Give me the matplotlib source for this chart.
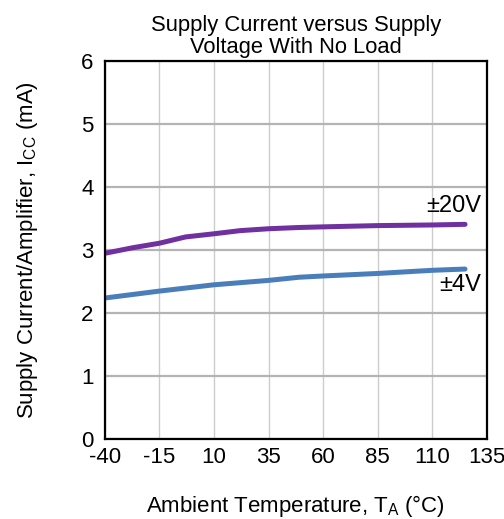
import matplotlib
matplotlib.use('Agg')
import matplotlib.pyplot as plt

plt.rcParams['font.family'] = ['Liberation Sans', 'DejaVu Sans']
plt.rcParams['mathtext.default'] = 'regular'
plt.rcParams['axes.unicode_minus'] = False

# values
temp_20v = [-40, -27, -15, -3, 10, 22, 35, 49, 60, 85, 110, 125]
icc_20v = [2.95, 3.04, 3.11, 3.21, 3.26, 3.31, 3.34, 3.36, 3.37, 3.39, 3.40, 3.41]
temp_4v = [-40, -15, 10, 35, 49, 60, 85, 110, 125]
icc_4v = [2.24, 2.35, 2.45, 2.52, 2.57, 2.59, 2.63, 2.68, 2.70]
x_ticks = [-40, -15, 10, 35, 60, 85, 110, 135]
y_ticks = [0, 1, 2, 3, 4, 5, 6]

fig = plt.figure(figsize=(5.04, 5.19), dpi=100)
ax = fig.add_axes([0.208, 0.154, 0.758, 0.728])

ax.plot(temp_20v, icc_20v, color='#7030a0', lw=3.6, solid_capstyle='round')
ax.plot(temp_4v, icc_4v, color='#4a7ebb', lw=3.6, solid_capstyle='round')

ax.text(132.5, 3.70, '±20V', ha='right', va='center', fontsize=17)
ax.text(132.5, 2.44, '±4V', ha='right', va='center', fontsize=17)

ax.set_xlim(-40, 135)
ax.set_ylim(0, 6)
ax.set_xticks(x_ticks)
ax.set_yticks(y_ticks)
ax.tick_params(length=0, labelsize=16)
ax.tick_params(axis='y', pad=8)
ax.tick_params(axis='x', pad=6)
ax.xaxis.grid(True, color='#cccccc', lw=1.0)
ax.yaxis.grid(True, color='#b4b4b4', lw=1.6)
ax.set_axisbelow(True)
for s in ax.spines.values():
    s.set_linewidth(1.6)
    s.set_color('black')

ax.set_title('Supply Current versus Supply\nVoltage With No Load', fontsize=15.8, pad=6, linespacing=1.05)
ax.set_xlabel('Ambient Temperature, T$_{A}$ (°C)', fontsize=16, labelpad=18)
ax.set_ylabel('Supply Current/Amplifier, I$_{CC}$ (mA)', fontsize=16, labelpad=30)

fig.savefig('out.png', dpi=100)
